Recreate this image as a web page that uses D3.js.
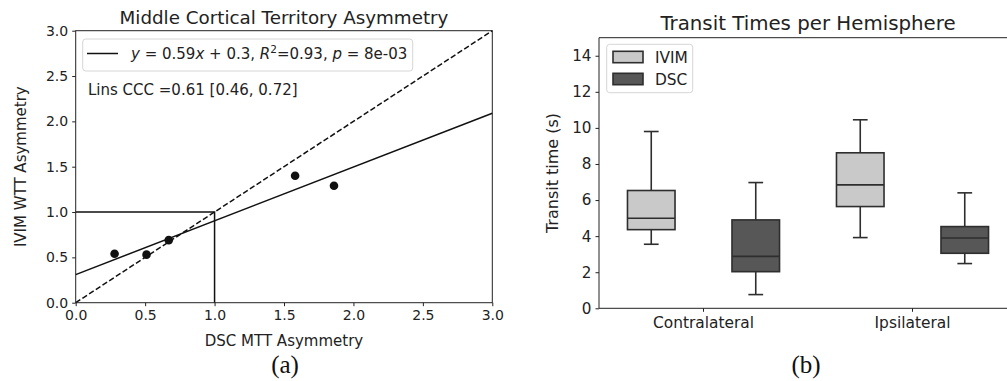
<!DOCTYPE html>
<html>
<head>
<meta charset="utf-8">
<script src="https://cdn.jsdelivr.net/npm/d3@7"></script>
<style>
    body { margin: 0; background: #fff; }
    svg { display: block; font-family: 'DejaVu Sans', sans-serif; }
</style>
</head>
<body>
<div id="wrapper"></div>
<script>
// (a) asymmetry scatter
const dscAsym = [0.28, 0.51, 0.67, 1.58, 1.86]
const ivimAsym = [0.54, 0.53, 0.69, 1.40, 1.29]
const fitLine = [[0, 0.31], [3, 2.09]]
const identityLine = [[0, 0], [3, 3]]
const thresholdLine = [[0, 1], [1, 1], [1, 0]]
const asymTicks = [0, 0.5, 1, 1.5, 2, 2.5, 3]

// (b) transit time boxes: [low whisker, q1, median, q3, high whisker]
const hemispheres = ['Contralateral', 'Ipsilateral']
const methods = ['IVIM', 'DSC']
const ivimStats = [[3.55, 4.36, 4.99, 6.53, 9.80], [3.92, 5.64, 6.84, 8.62, 10.45]]
const dscStats = [[0.76, 2.03, 2.88, 4.90, 6.97], [2.48, 3.05, 3.90, 4.53, 6.40]]
const timeTicks = [0, 2, 4, 6, 8, 10, 12, 14]

const width = 1007
const height = 381
const ink = '#222'

const svg = d3.select('#wrapper')
    .append('svg')
    .attr('width', width)
    .attr('height', height)

function styleAxis(g, size) {
    g.select('.domain').remove()
    g.selectAll('.tick line').attr('stroke', ink).attr('stroke-width', 1)
    g.selectAll('.tick text').attr('fill', ink).style('font-size', size + 'px').style('font-family', 'DejaVu Sans')
}

// ---------- (a) ----------
function renderScatter() {
    const box = { left: 75.7, right: 492.3, top: 30.7, bottom: 302.7 }
    const xScale = d3.scaleLinear().domain([0, 3]).range([box.left, box.right])
    const yScale = d3.scaleLinear().domain([0, 3]).range([box.bottom, box.top])
    const g = svg.append('g')

    const line = d3.line().x(d => xScale(d[0])).y(d => yScale(d[1]))

    g.append('path').attr('d', line(identityLine))
        .attr('fill', 'none').attr('stroke', '#111').attr('stroke-width', 1.5)
        .attr('stroke-dasharray', '5.5,2.5')
    g.append('path').attr('d', line(fitLine))
        .attr('fill', 'none').attr('stroke', '#111').attr('stroke-width', 1.5)
    g.append('path').attr('d', line(thresholdLine))
        .attr('fill', 'none').attr('stroke', '#111').attr('stroke-width', 1.5)

    g.selectAll('circle').data(dscAsym).join('circle')
        .attr('cx', d => xScale(d))
        .attr('cy', (d, i) => yScale(ivimAsym[i]))
        .attr('r', 4.3)
        .attr('fill', '#111')

    g.append('rect')
        .attr('x', box.left).attr('y', box.top)
        .attr('width', box.right - box.left).attr('height', box.bottom - box.top)
        .attr('fill', 'none').attr('stroke', ink).attr('stroke-width', 1)

    const xAxis = g.append('g')
        .attr('transform', `translate(0,${box.bottom})`)
        .call(d3.axisBottom(xScale).tickValues(asymTicks).tickFormat(d3.format('.1f')).tickSize(3.5).tickPadding(4))
    styleAxis(xAxis, 14)
    const yAxis = g.append('g')
        .attr('transform', `translate(${box.left},0)`)
        .call(d3.axisLeft(yScale).tickValues(asymTicks).tickFormat(d3.format('.1f')).tickSize(3.5).tickPadding(4))
    styleAxis(yAxis, 14)

    // legend
    g.append('rect')
        .attr('x', 82.7).attr('y', 39).attr('width', 330).attr('height', 32).attr('rx', 3)
        .attr('fill', 'rgba(255,255,255,0.8)').attr('stroke', '#d6d6d6').attr('stroke-width', 1)
    g.append('line')
        .attr('x1', 87).attr('x2', 118).attr('y1', 53.5).attr('y2', 53.5)
        .attr('stroke', '#111').attr('stroke-width', 1.5)
    const legendText = g.append('text')
        .attr('x', 131).attr('y', 59)
        .attr('fill', ink).style('font-size', '15px')
    const parts = [
        ['y', true], [' = 0.59', false], ['x', true], [' + 0.3, ', false],
        ['R', true], ['2', 'sup'], ['=0.93, ', false], ['p', true], [' = 8e-03', false]
    ]
    parts.forEach(([t, style]) => {
        const span = legendText.append('tspan').text(t)
        if (style === true) span.style('font-style', 'italic')
        if (style === 'sup') span.attr('dy', -6).style('font-size', '10.5px')
        if (t === '=0.93, ') span.attr('dy', 6)
    })

    g.append('text')
        .attr('x', 88).attr('y', 95)
        .attr('fill', ink).style('font-size', '15px')
        .text('Lins CCC =0.61 [0.46, 0.72]')

    g.append('text')
        .attr('x', (box.left + box.right) / 2).attr('y', 24)
        .attr('text-anchor', 'middle').attr('fill', ink).style('font-size', '18.3px')
        .text('Middle Cortical Territory Asymmetry')
    g.append('text')
        .attr('x', (box.left + box.right) / 2).attr('y', 346)
        .attr('text-anchor', 'middle').attr('fill', ink).style('font-size', '15px')
        .text('DSC MTT Asymmetry')
    g.append('text')
        .attr('transform', `translate(26,${(box.top + box.bottom) / 2}) rotate(-90)`)
        .attr('text-anchor', 'middle').attr('fill', ink).style('font-size', '15px')
        .text('IVIM WTT Asymmetry')
    g.append('text')
        .attr('x', 285).attr('y', 373)
        .attr('text-anchor', 'middle').attr('fill', '#111')
        .style('font-family', "'Liberation Serif', serif").style('font-size', '25px')
        .text('(a)')
}

// ---------- (b) ----------
function renderBoxes() {
    const box = { left: 599, right: 1017, top: 37.7, bottom: 308.3 }
    const xScale = d3.scaleBand().domain(hemispheres).range([box.left, box.right])
    const hueScale = d3.scaleBand().domain(methods).range([0, xScale.bandwidth()])
    const yScale = d3.scaleLinear().domain([0, 15]).range([box.bottom, box.top])
    const fills = { IVIM: '#c9c9c9', DSC: '#575757' }
    const edge = '#2e2e2e'
    const boxWidth = hueScale.bandwidth() * 0.455
    const capWidth = boxWidth * 0.31
    const g = svg.append('g')

    const rows = []
    hemispheres.forEach((h, i) => {
        rows.push({ hemi: h, method: 'IVIM', s: ivimStats[i] })
        rows.push({ hemi: h, method: 'DSC', s: dscStats[i] })
    })

    const groups = g.selectAll('g.box').data(rows).join('g').attr('class', 'box')
        .attr('transform', d => `translate(${xScale(d.hemi) + hueScale(d.method) + hueScale.bandwidth() / 2},0)`)

    groups.append('line')
        .attr('x1', 0).attr('x2', 0)
        .attr('y1', d => yScale(d.s[0])).attr('y2', d => yScale(d.s[1]))
        .attr('stroke', edge).attr('stroke-width', 1.6)
    groups.append('line')
        .attr('x1', 0).attr('x2', 0)
        .attr('y1', d => yScale(d.s[3])).attr('y2', d => yScale(d.s[4]))
        .attr('stroke', edge).attr('stroke-width', 1.6)
    groups.append('line')
        .attr('x1', -capWidth / 2).attr('x2', capWidth / 2)
        .attr('y1', d => yScale(d.s[0])).attr('y2', d => yScale(d.s[0]))
        .attr('stroke', edge).attr('stroke-width', 1.6)
    groups.append('line')
        .attr('x1', -capWidth / 2).attr('x2', capWidth / 2)
        .attr('y1', d => yScale(d.s[4])).attr('y2', d => yScale(d.s[4]))
        .attr('stroke', edge).attr('stroke-width', 1.6)
    groups.append('rect')
        .attr('x', -boxWidth / 2).attr('width', boxWidth)
        .attr('y', d => yScale(d.s[3])).attr('height', d => yScale(d.s[1]) - yScale(d.s[3]))
        .attr('fill', d => fills[d.method]).attr('stroke', edge).attr('stroke-width', 1.6)
    groups.append('line')
        .attr('x1', -boxWidth / 2).attr('x2', boxWidth / 2)
        .attr('y1', d => yScale(d.s[2])).attr('y2', d => yScale(d.s[2]))
        .attr('stroke', edge).attr('stroke-width', 1.6)

    // spines
    g.append('path')
        .attr('d', `M${box.left},${box.bottom}V${box.top}H${box.right}V${box.bottom}Z`)
        .attr('fill', 'none').attr('stroke', ink).attr('stroke-width', 1)

    const xAxis = g.append('g')
        .attr('transform', `translate(0,${box.bottom})`)
        .call(d3.axisBottom(xScale).tickSize(3.5).tickPadding(5))
    styleAxis(xAxis, 15.4)
    const yAxis = g.append('g')
        .attr('transform', `translate(${box.left},0)`)
        .call(d3.axisLeft(yScale).tickValues(timeTicks).tickSize(3.5).tickPadding(4))
    styleAxis(yAxis, 15.2)

    // legend
    g.append('rect')
        .attr('x', 606.7).attr('y', 44.3).attr('width', 86).attr('height', 48.4).attr('rx', 3)
        .attr('fill', 'rgba(255,255,255,0.8)').attr('stroke', '#d6d6d6').attr('stroke-width', 1)
    methods.forEach((m, i) => {
        const cy = 57 + i * 22
        g.append('rect')
            .attr('x', 613).attr('y', cy - 5.7).attr('width', 30).attr('height', 11.4)
            .attr('fill', fills[m]).attr('stroke', edge).attr('stroke-width', 1.6)
        g.append('text')
            .attr('x', 655).attr('y', cy).attr('dy', '0.36em')
            .attr('fill', ink).style('font-size', '15.4px')
            .text(m)
    })

    g.append('text')
        .attr('x', 808).attr('y', 30)
        .attr('text-anchor', 'middle').attr('fill', ink).style('font-size', '19.8px')
        .text('Transit Times per Hemisphere')
    g.append('text')
        .attr('transform', `translate(558,${(box.top + box.bottom) / 2}) rotate(-90)`)
        .attr('text-anchor', 'middle').attr('fill', ink).style('font-size', '16px')
        .text('Transit time (s)')
    g.append('text')
        .attr('x', 806).attr('y', 373)
        .attr('text-anchor', 'middle').attr('fill', '#111')
        .style('font-family', "'Liberation Serif', serif").style('font-size', '25px')
        .text('(b)')
}

renderScatter()
renderBoxes()
</script>
</body>
</html>
